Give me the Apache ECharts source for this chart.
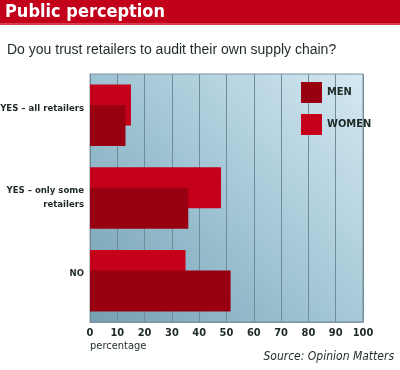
<!DOCTYPE html>
<html><head><meta charset="utf-8">
<script src="https://cdn.jsdelivr.net/npm/echarts@6/dist/echarts.min.js"></script>
<style>html,body{margin:0;padding:0;background:#fff}#c{width:400px;height:370px}</style>
</head><body><div id="c"></div>
<script>
var categories = ['YES – all retailers', 'YES – only some\nretailers', 'NO'];
var men = [13, 36, 51.5];
var women = [15, 48, 35];
var xTicks = [0, 10, 20, 30, 40, 50, 60, 70, 80, 90, 100];

var NARROW = '"Liberation Sans Narrow", "DejaVu Sans Condensed", sans-serif';
var chart = echarts.init(document.getElementById('c'));
chart.setOption({
  backgroundColor: '#ffffff',
  animation: false,
  graphic: [
    { type: 'rect', z: -1, shape: { x: 0, y: 0, width: 400, height: 23 }, style: { fill: '#c2001a' } },
    { type: 'rect', z: -1, shape: { x: 0, y: 23, width: 400, height: 2 }, style: { fill: '#d8404f' } }
  ],
  title: [
    { text: 'Public perception', left: 0, top: -2,
      textStyle: { color: '#ffffff', fontFamily: NARROW, fontWeight: 'bold', fontSize: 18 } },
    { text: 'Do you trust retailers to audit their own supply chain?', left: 2, top: 38,
      textStyle: { color: '#1e2a24', fontFamily: '"Liberation Sans", sans-serif', fontWeight: 'normal', fontSize: 14 } },
    { text: 'percentage', left: 85, top: 336,
      textStyle: { color: '#1e2a24', fontFamily: NARROW, fontWeight: 'normal', fontSize: 11 } },
    { text: 'Source: Opinion Matters', right: 1, top: 346,
      textStyle: { color: '#1e2a24', fontFamily: NARROW, fontWeight: 'normal', fontStyle: 'italic', fontSize: 12 } }
  ],
  legend: {
    orient: 'vertical', left: 296, top: 77, itemWidth: 21, itemHeight: 21, itemGap: 11,
    icon: 'rect', data: ['MEN', 'WOMEN'],
    textStyle: { color: '#1e2a24', fontFamily: NARROW, fontWeight: 'bold', fontSize: 11 }
  },
  grid: {
    left: 90, right: 37, top: 74, bottom: 48, show: true, borderColor: '#7e939b', borderWidth: 1,
    outerBoundsMode: 'none', containLabel: false,
    backgroundColor: new echarts.graphic.LinearGradient(0, 1, 1, 0, [
      { offset: 0, color: '#74a0b3' }, { offset: 0.5, color: '#a2c6d5' }, { offset: 1, color: '#d4e8f2' }
    ])
  },
  xAxis: {
    type: 'value', min: 0, max: 100, interval: 10,
    axisLine: { show: true, lineStyle: { color: '#7e939b' } },
    axisTick: { show: false },
    splitLine: { show: true, lineStyle: { color: '#6f8c97', width: 1 } },
    axisLabel: { color: '#1e2a24', fontFamily: NARROW, fontWeight: 'bold', fontSize: 11, margin: 6,
      formatter: function (v) { return xTicks.indexOf(v) >= 0 ? String(v) : ''; } }
  },
  yAxis: {
    type: 'category', data: categories, inverse: true,
    axisLine: { show: false }, axisTick: { show: false },
    axisLabel: { color: '#1e2a24', fontFamily: NARROW, fontWeight: 'bold', fontSize: 9.5, margin: 6, lineHeight: 14, align: 'right',
      formatter: function (v) { return v.indexOf('\n') < 0 ? v + '\n ' : v; } }
  },
  series: [
    { name: 'WOMEN', type: 'bar', data: women, barWidth: 41, barGap: '-50%', z: 2,
      itemStyle: { color: '#c4001a' } },
    { name: 'MEN', type: 'bar', data: men, barWidth: 41, barGap: '-50%', z: 3,
      itemStyle: { color: '#980012' } }
  ]
});
</script></body></html>
